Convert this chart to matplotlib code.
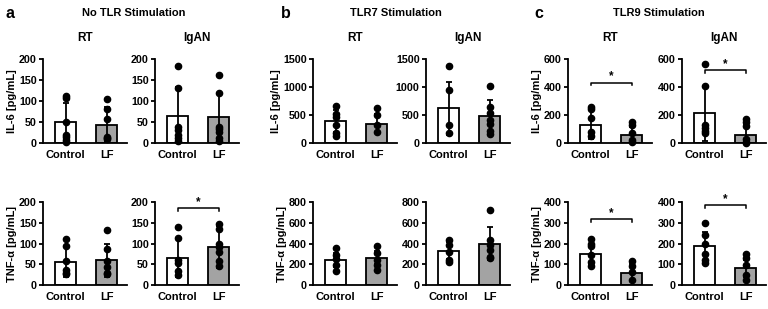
import matplotlib.pyplot as plt
import numpy as np

plt.rcParams['font.family'] = ['Liberation Sans', 'DejaVu Sans']
plt.rcParams['font.weight'] = 'bold'

groups = ["Control", "LF"]
cohorts = ["RT", "IgAN"]
stimulations = ["No TLR Stimulation", "TLR7 Stimulation", "TLR9 Stimulation"]
letters = ["a", "b", "c"]
cytokines = ["IL-6 [pg/mL]", "TNF-\u03b1 [pg/mL]"]

# [cohort][group]  (RT / IgAN ; Control / LF)
no_tlr_il6_mean = [[49, 44], [65, 63]]
no_tlr_il6_sd = [[46, 42], [68, 57]]
no_tlr_il6_pts = [[[112, 108, 50, 20, 15, 8, 3], [104, 82, 58, 15, 12, 10]],
                  [[183, 130, 38, 32, 20, 12, 4], [162, 120, 38, 33, 25, 12, 5]]]
no_tlr_tnf_mean = [[56, 60], [66, 91]]
no_tlr_tnf_sd = [[37, 40], [46, 50]]
no_tlr_tnf_pts = [[[110, 94, 58, 36, 30, 26], [132, 86, 58, 44, 30, 26]],
                  [[140, 114, 60, 52, 34, 24], [148, 134, 98, 92, 80, 58, 46]]]

tlr7_il6_mean = [[392, 343], [620, 476]]
tlr7_il6_sd = [[190, 170], [470, 285]]
tlr7_il6_pts = [[[657, 524, 464, 313, 175, 133], [633, 494, 313, 193]],
                [[1380, 940, 330, 170], [1020, 650, 536, 416, 331, 223, 163]]]
tlr7_tnf_mean = [[240, 262], [330, 400]]
tlr7_tnf_sd = [[64, 64], [80, 160]]
tlr7_tnf_pts = [[[352, 288, 250, 192, 134], [374, 310, 240, 192, 144]],
                [[432, 390, 320, 240, 218], [720, 432, 384, 336, 272, 256]]]

tlr9_il6_mean = [[132, 55], [211, 58]]
tlr9_il6_sd = [[106, 58], [197, 74]]
tlr9_il6_pts = [[[257, 240, 180, 77, 48], [151, 127, 72, 24, 5]],
                [[564, 408, 132, 108, 84, 72], [168, 149, 120, 29, 5, 0]]]
tlr9_tnf_mean = [[148, 60], [188, 80]]
tlr9_tnf_sd = [[45, 40], [69, 40]]
tlr9_tnf_pts = [[[220, 196, 188, 145, 112, 92], [117, 93, 61, 24]],
                [[299, 241, 196, 148, 120, 104], [149, 132, 96, 48, 24]]]

# significance bracket heights (None = no bracket)
no_tlr_sig = [[None, None], [None, 186]]
tlr7_sig = [[None, None], [None, None]]
tlr9_sig = [[432, 521], [318, 385]]

# y axis max / step per column and cytokine
y_max = [[200, 200], [1500, 800], [600, 400]]
y_step = [[50, 50], [500, 200], [200, 100]]

means = [[no_tlr_il6_mean, no_tlr_tnf_mean], [tlr7_il6_mean, tlr7_tnf_mean], [tlr9_il6_mean, tlr9_tnf_mean]]
sds = [[no_tlr_il6_sd, no_tlr_tnf_sd], [tlr7_il6_sd, tlr7_tnf_sd], [tlr9_il6_sd, tlr9_tnf_sd]]
pts = [[no_tlr_il6_pts, no_tlr_tnf_pts], [tlr7_il6_pts, tlr7_tnf_pts], [tlr9_il6_pts, tlr9_tnf_pts]]
sigs = [no_tlr_sig, tlr7_sig, tlr9_sig]

W, H = 768, 309
fig = plt.figure(figsize=(W / 100, H / 100), dpi=100)

col_lefts = [[43, 155], [313, 426], [568, 682]]
row_tops = [59, 202]
row_bottoms = [143, 285]
ax_w = 84
title_x = [134, 396, 659]
letter_x = [5, 281, 534]

x = np.arange(2)
for c in range(3):
    fig.text(title_x[c] / W, 1 - 13 / H, stimulations[c], ha="center", va="center",
             fontsize=8, fontweight="bold")
    fig.text(letter_x[c] / W, 1 - 13 / H, letters[c], ha="left", va="center",
             fontsize=11.5, fontweight="bold")
    for r in range(2):
        for k in range(2):
            left = col_lefts[c][k]
            ax = fig.add_axes([left / W, 1 - row_bottoms[r] / H, ax_w / W,
                               (row_bottoms[r] - row_tops[r]) / H])
            m = means[c][r][k]
            s = sds[c][r][k]
            ax.bar(x, m, width=0.53, color=["white", "#a3a3a3"], edgecolor="black",
                   linewidth=1.3, zorder=1)
            ax.errorbar(x, m, yerr=s, fmt="none", ecolor="black", elinewidth=1.3,
                        capsize=2.5, capthick=1.3, zorder=2)
            for i in range(2):
                p = pts[c][r][k][i]
                ax.plot([x[i]] * len(p), p, "o", color="black", markersize=4.5,
                        zorder=3, clip_on=False)
            h = sigs[c][r][k]
            if h is not None:
                d = y_max[c][r] * 0.035
                ax.plot([x[0], x[0], x[1], x[1]], [h - d, h, h, h - d], color="black",
                        linewidth=1.1, clip_on=False)
                ax.text(0.5, h, "*", ha="center", va="bottom", fontsize=8.5,
                        fontweight="bold")
            ax.set_xlim(-0.55, 1.5)
            ax.set_ylim(0, y_max[c][r])
            ax.set_yticks(np.arange(0, y_max[c][r] + 1, y_step[c][r]))
            ax.set_xticks(x)
            ax.set_xticklabels(groups)
            for sp in ["top", "right"]:
                ax.spines[sp].set_visible(False)
            for sp in ["left", "bottom"]:
                ax.spines[sp].set_linewidth(1.3)
            ax.tick_params(axis="x", length=0, labelsize=8, pad=5)
            ax.tick_params(axis="y", length=3, width=1.3, labelsize=7.7, pad=1.5)
            for lab in ax.get_xticklabels() + ax.get_yticklabels():
                lab.set_fontweight("bold")
            if r == 0:
                ax.set_title(cohorts[k], fontsize=8.5, fontweight="bold", pad=13)
            if k == 0:
                ax.set_ylabel(cytokines[r], fontsize=8, fontweight="bold", labelpad=1.5)

fig.savefig("out.png", dpi=100)
